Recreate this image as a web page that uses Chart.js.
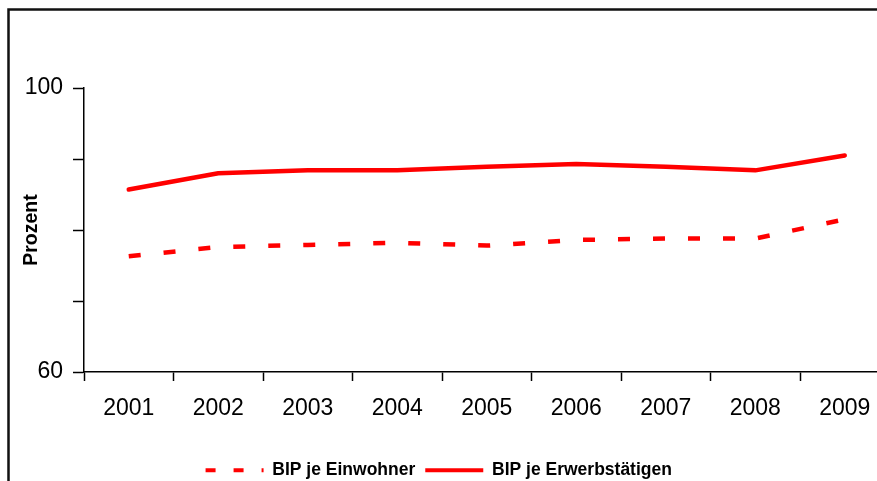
<!DOCTYPE html>
<html>
<head>
<meta charset="utf-8">
<script src="https://cdn.jsdelivr.net/npm/chart.js@4"></script>
<style>
  html, body { margin: 0; padding: 0; background: #fff; overflow: hidden; }
  #wrap { position: relative; width: 900px; height: 490px; }
</style>
</head>
<body>
<div id="wrap"><canvas id="chart"></canvas></div>
<script>
// Jahre (Kategorien)
const years = ['2001', '2002', '2003', '2004', '2005', '2006', '2007', '2008', '2009'];
// BIP je Einwohner, Prozent
const bipJeEinwohner = [76.3, 77.6, 77.9, 78.2, 77.8, 78.6, 78.8, 78.8, 81.5];
// BIP je Erwerbstätigen, Prozent
const bipJeErwerbstaetigen = [85.7, 88.0, 88.4, 88.4, 88.9, 89.3, 88.9, 88.4, 90.5];
// beschriftete Werte der y-Achse
const yLabelled = [60, 100];

const FONT = 'Arial, "Liberation Sans", sans-serif';
const RED = '#ff0000';

// Rahmen um die Grafik
const frame = {
  id: 'frame',
  beforeDraw(chart) {
    const ctx = chart.ctx;
    ctx.save();
    ctx.strokeStyle = '#111';
    ctx.lineWidth = 2.5;
    ctx.strokeRect(8.5, 9.5, 2000, 2000);
    ctx.restore();
  }
};

// Legende etwas nach links rücken
const legendShift = {
  id: 'legendShift',
  afterLayout(chart) {
    if (chart.legend) {
      chart.legend.left -= 10;
      chart.legend.right -= 10;
    }
  }
};

new Chart(document.getElementById('chart'), {
  type: 'line',
  data: {
    labels: years,
    datasets: [
      {
        label: 'BIP je Einwohner',
        data: bipJeEinwohner,
        borderColor: RED,
        backgroundColor: RED,
        borderWidth: 4.5,
        borderDash: [12, 23],
        borderCapStyle: 'butt',
        pointRadius: 0,
        tension: 0
      },
      {
        label: 'BIP je Erwerbstätigen',
        data: bipJeErwerbstaetigen,
        borderColor: RED,
        backgroundColor: RED,
        borderWidth: 4.5,
        borderCapStyle: 'round',
        borderJoinStyle: 'round',
        pointRadius: 0,
        tension: 0
      }
    ]
  },
  options: {
    responsive: true,
    maintainAspectRatio: false,
    animation: false,
    layout: { padding: { top: 88, left: 8, right: 10.5, bottom: 1 } },
    plugins: {
      tooltip: { enabled: false },
      legend: {
        position: 'bottom',
        labels: {
          usePointStyle: true,
          pointStyle: 'line',
          pointStyleWidth: 58,
          padding: 10,
          color: '#000',
          font: { family: FONT, size: 17.5, weight: 'bold' },
          generateLabels(chart) {
            const items = Chart.defaults.plugins.legend.labels.generateLabels(chart);
            items.forEach(it => {
              const ds = chart.data.datasets[it.datasetIndex];
              it.lineDash = ds.borderDash ? [10, 18] : [];
              it.lineWidth = 4;
            });
            return items;
          }
        }
      }
    },
    scales: {
      x: {
        type: 'category',
        offset: true,
        grid: {
          offset: true,
          drawOnChartArea: false,
          drawTicks: true,
          tickLength: 9,
          tickColor: '#000',
          tickWidth: 1.5
        },
        border: { display: true, color: '#000', width: 1.5 },
        ticks: {
          color: '#000',
          font: { family: FONT, size: 23 },
          padding: 14,
          maxRotation: 0,
          autoSkip: false
        },
        afterFit(scale) { scale.height = 79.5; }
      },
      y: {
        min: 60,
        max: 100,
        grid: {
          drawOnChartArea: false,
          drawTicks: true,
          tickLength: 11,
          tickColor: '#000',
          tickWidth: 1.5
        },
        border: { display: true, color: '#000', width: 1.5 },
        ticks: {
          stepSize: 10,
          color: '#000',
          padding: 10,
          font: { family: FONT, size: 23 },
          callback: v => (yLabelled.includes(v) ? String(v) : '')
        },
        title: {
          display: true,
          text: 'Prozent',
          color: '#000',
          font: { family: FONT, size: 19.5, weight: 'bold' },
          padding: { top: 12, bottom: 0 }
        },
        afterFit(scale) { scale.width = 76; }
      }
    }
  },
  plugins: [frame, legendShift]
});
</script>
</body>
</html>
